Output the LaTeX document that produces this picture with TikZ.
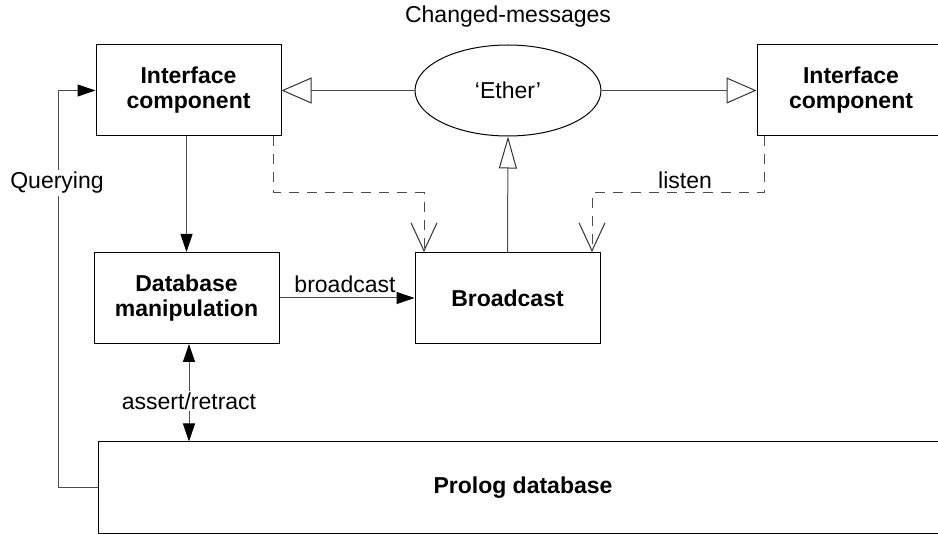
\documentclass[tikz,border=0pt]{standalone}
\usepackage{fontspec}
\setmainfont{Liberation Sans}
\usetikzlibrary{arrows.meta,shapes.geometric}
\begin{document}
\begin{tikzpicture}[x=0.5pt,y=-0.5pt,
  lbl/.style={font=\fontsize{11.5}{12.5}\selectfont, inner sep=1pt},
  box/.style={draw=black, line width=0.5pt, minimum width=92.5pt, minimum height=45.5pt,
    align=center, inner sep=0pt, font=\fontsize{11.5}{12.5}\selectfont\bfseries},
  ether/.style={draw=black, line width=0.5pt, ellipse, minimum width=93pt, minimum height=45.5pt,
    inner sep=0pt, font=\fontsize{11.5}{12.5}\selectfont},
  conn/.style={draw=black!70, line width=0.5pt},
  hollowh/.style={-{Triangle[open,length=15pt,width=13pt,color=black!80]}},
  hollowv/.style={-{Triangle[open,length=16pt,width=9pt,color=black!80]}},
  filled/.style={-{Triangle[length=9pt,width=6pt,color=black,fill=black]}},
  vtip/.style={-{Straight Barb[length=14pt,width=13pt,color=black!80]}},
  dashline/.style={dash pattern=on 5pt off 4pt}
]
\useasboundingbox (0,0) rectangle (938,534);
\clip (0,0) rectangle (938,534);

\node[box] (ic1) at (188.5,90.5) {Interface\\component};
\node[ether] (eth) at (508,90.5) {‘Ether’};
\node[box, minimum width=94pt] (ic2) at (851,90.5) {Interface\\component};
\node[lbl] (cm) at (508,17) {Changed-messages};
\node[box] (db) at (186.5,298) {Database\\manipulation};
\node[box] (bc) at (507.5,298) {Broadcast};
\node[box, minimum width=425pt] (pdb) at (523,487.5) {Prolog database};

% Ether to interface components
\draw[conn, hollowh] (eth.west) -- (ic1.east);
\draw[conn, hollowh] (eth.east) -- (ic2.west);
% Broadcast to Ether
\draw[conn, hollowv] (bc.north) -- (eth.south);

% dashed listen lines
\coordinate (dl) at (424,193);
\coordinate (dr) at (592,193);
\draw[conn, dashline, vtip] ([xshift=-4pt]ic1.south east) |- (dl) -- (dl |- bc.north);
\draw[conn, dashline, vtip] ([xshift=4pt]ic2.south west) |- (dr) -- (dr |- bc.north);
\node[lbl] (listen) at (685,180) {listen};

% interface to database manipulation
\draw[conn, filled] (ic1.south -| db.north) -- (db.north);

% broadcast
\draw[conn, filled] (db.east) -- (bc.west);
\node[lbl] (bcl) at (345,284) {broadcast};

% assert/retract
\coordinate (ar) at (189,0);
\draw[conn, {Triangle[length=9pt,width=6pt,color=black,fill=black]}-{Triangle[length=9pt,width=6pt,color=black,fill=black]}] (ar |- db.south) -- (ar |- pdb.north);
\node[lbl, fill=white] (arl) at (189,401) {assert/retract};

% querying
\coordinate (qx) at (58,0);
\draw[conn, filled] (pdb.west) -- (qx |- pdb.west) -- (qx |- ic1.west) -- (ic1.west);
\node[lbl, fill=white] (ql) at (57,183) {Querying};
\end{tikzpicture}
\end{document}
